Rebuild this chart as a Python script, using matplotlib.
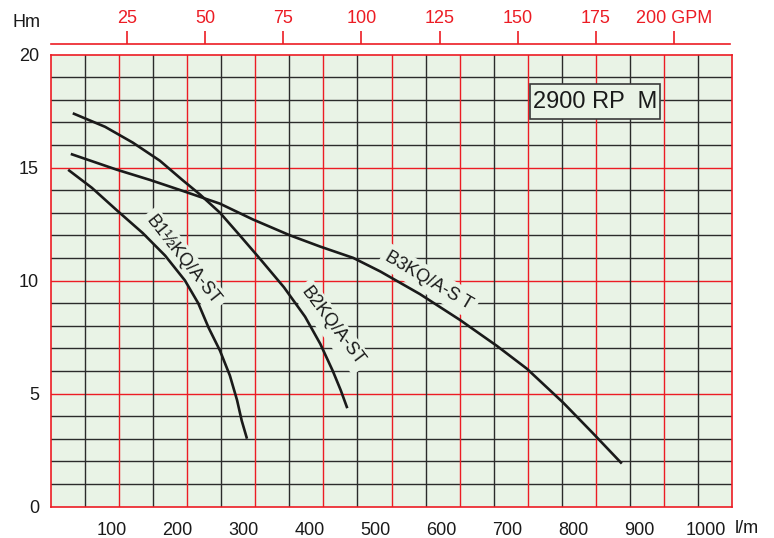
import numpy as np
import matplotlib
matplotlib.use('Agg')
from matplotlib import pyplot as plt
from matplotlib.patches import Rectangle

plt.rcParams['font.family'] = ['Liberation Sans', 'DejaVu Sans']

# pump curves: flow [l/m] vs head [m]
b15_q = [34, 70, 108, 147, 181, 211, 231, 247, 264, 279, 290, 297, 305]
b15_h = [14.9, 14.1, 13.1, 12.1, 11.1, 10.0, 9.0, 7.9, 6.9, 5.8, 4.7, 3.8, 3.0]

b2_q = [41, 90, 132, 173, 207, 234, 264, 294, 325, 361, 393, 416, 435, 447, 457]
b2_h = [17.4, 16.8, 16.1, 15.3, 14.45, 13.8, 13.0, 12.0, 10.95, 9.7, 8.4, 7.2, 6.0, 5.15, 4.35]

b3_q = [38, 108, 158, 204, 264, 314, 370, 416, 466, 507, 567, 628, 684, 729, 784, 829, 873]
b3_h = [15.6, 14.9, 14.45, 14.0, 13.4, 12.7, 12.0, 11.5, 11.0, 10.4, 9.4, 8.25, 7.1, 6.1, 4.6, 3.25, 1.9]

curve_names = ['B1½KQ/A-ST', 'B2KQ/A-ST', 'B3KQ/A-S T']

lpm_ticks = [100, 200, 300, 400, 500, 600, 700, 800, 900, 1000]
head_ticks = [0, 5, 10, 15, 20]
gpm_ticks = [25, 50, 75, 100, 125, 150, 175, 200]
gpm_labels = ['25', '50', '75', '100', '125', '150', '175', '200 GPM']

RED = '#ec1c24'
DARK = '#2b2b2b'
BG = '#e9f3e6'
W, H = 774, 538

fig = plt.figure(figsize=(W / 100, H / 100), dpi=100)
ax = fig.add_axes([51 / W, 31.5 / H, 681 / W, 452 / H])
ax.set_facecolor(BG)
ax.set_xlim(8, 1040)
ax.set_ylim(0, 20)

# grid: black every metre, red every 5; columns alternate black / red
for y in range(1, 20):
    ax.axhline(y, color=RED if y % 5 == 0 else DARK, lw=1.0, zorder=1)
for i, x in enumerate(np.linspace(8, 1040, 21)[1:-1]):
    ax.axvline(x, color=DARK if i % 2 == 0 else RED, lw=1.0, zorder=1)
for s in ax.spines.values():
    s.set_color(RED)
    s.set_linewidth(1.2)

for q, h in [(b15_q, b15_h), (b2_q, b2_h), (b3_q, b3_h)]:
    ax.plot(q, h, color='#1a1a1a', lw=1.9, zorder=4, solid_capstyle='butt')

lbl_box = dict(boxstyle='square,pad=0.25', fc=BG, ec='none')
for name, (x, y, rot) in zip(curve_names, [(208, 10.9, -51.6), (434, 7.96, -53), (581, 9.98, -30.6)]):
    ax.text(x, y, name, rotation=rot, rotation_mode='anchor', ha='center', va='center',
            fontsize=13, color='#1a1a1a', bbox=lbl_box, zorder=3)

ax.add_patch(Rectangle((0.703, 0.857), 0.191, 0.0774, transform=ax.transAxes,
                       fc=BG, ec='#3a3a3a', lw=1.2, zorder=3))
ax.text(0.7985, 0.896, '2900 RP  M', transform=ax.transAxes, ha='center', va='center',
        fontsize=17, color='#1a1a1a', zorder=5)

ax.set_xticks(lpm_ticks)
ax.set_yticks(head_ticks)
ax.tick_params(axis='x', length=0, labelsize=13, pad=11, labelcolor='#1a1a1a')
ax.tick_params(axis='y', length=0, labelsize=13, pad=8.6, labelcolor='#1a1a1a')

# GPM scale on top
ax2 = fig.add_axes([51 / W, (H - 44) / H, 679 / W, 13 / H])
ax2.patch.set_visible(False)
ax2.set_xlim(0.685, 217.9)
ax2.set_ylim(0, 1)
ax2.set_yticks([])
for k in ['top', 'left', 'right']:
    ax2.spines[k].set_visible(False)
ax2.spines['bottom'].set_color(RED)
ax2.spines['bottom'].set_linewidth(1.2)
ax2.set_xticks(gpm_ticks, gpm_labels)
ax2.tick_params(axis='x', direction='in', bottom=True, top=False, labelbottom=False,
                labeltop=True, length=9.4, width=1.2, color=RED, labelcolor=RED,
                labelsize=13, pad=3)

fig.text(26 / W, 1 - 27 / H, 'Hm', ha='center', va='baseline', fontsize=13, color='#1a1a1a')
fig.text(735 / W, 1 - 533 / H, 'l/m', ha='left', va='baseline', fontsize=13, color='#1a1a1a')

fig.savefig('out.png', dpi=100, facecolor='white')
